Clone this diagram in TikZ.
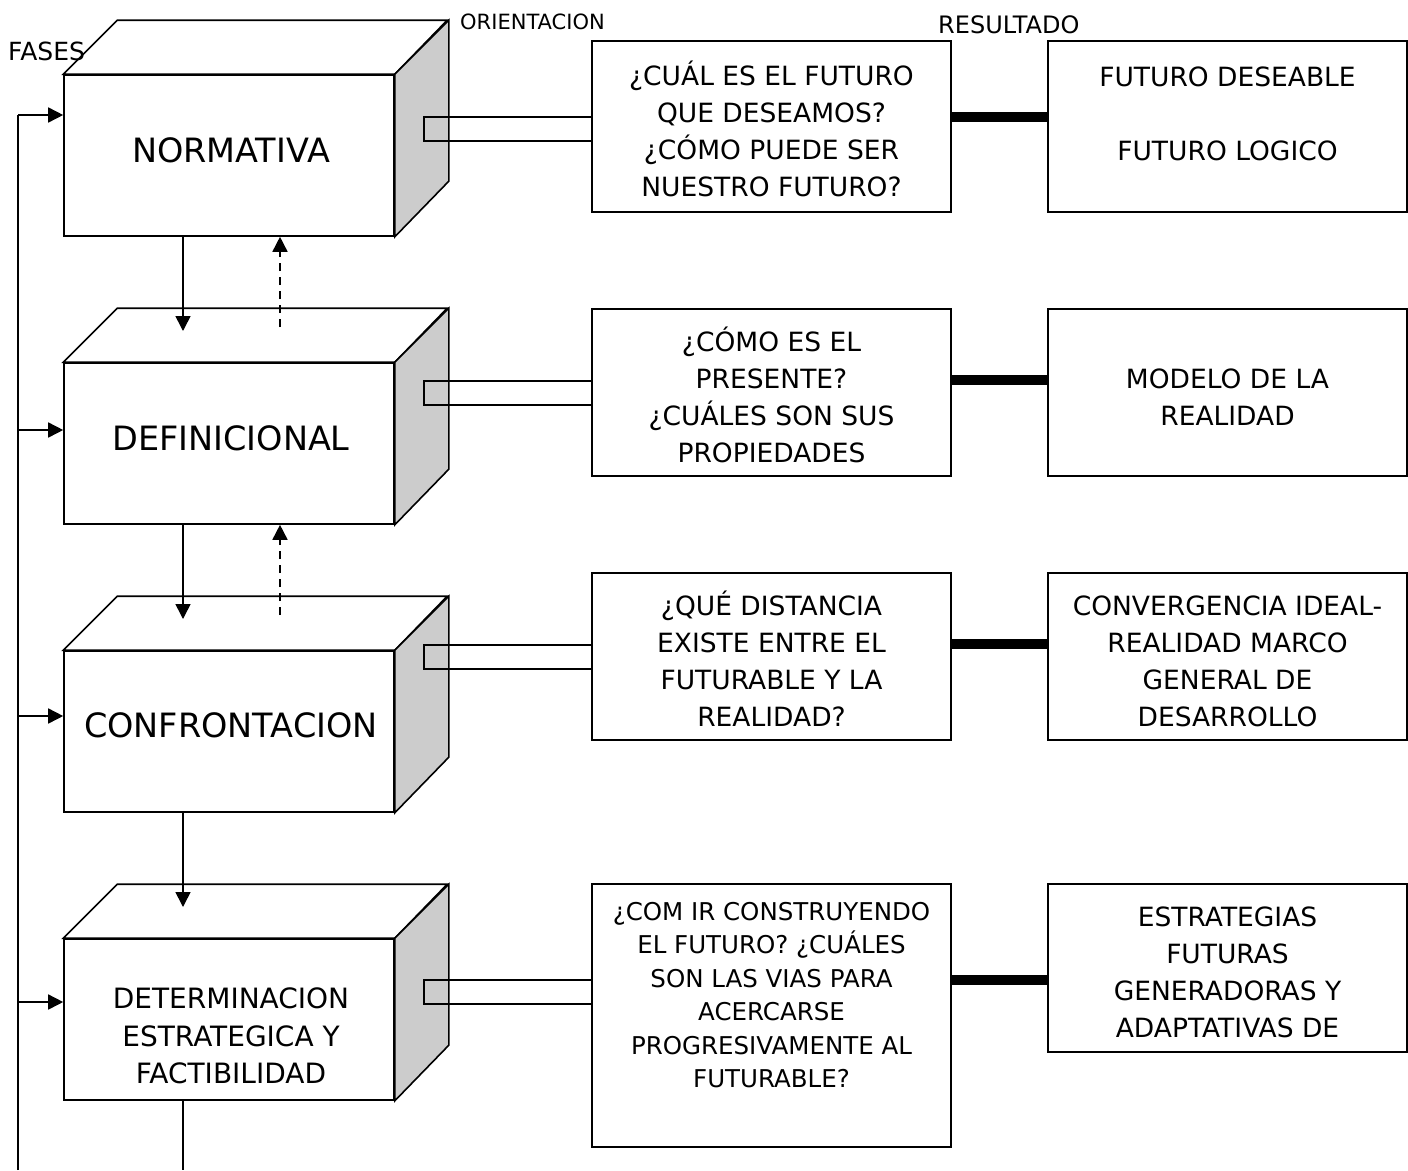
\documentclass[tikz,border=0pt]{standalone}
\usepackage{fontspec}
\setmainfont{DejaVu Sans}
\usetikzlibrary{arrows.meta}
\begin{document}
\begin{tikzpicture}[x=1pt,y=-1pt,
  ln/.style={line width=1.6pt},
  face/.style={ln, draw, fill=white, minimum width=330pt, minimum height=161pt, inner sep=0pt, align=center},
  qbox/.style={ln, draw, minimum width=359pt, inner sep=0pt, align=center},
  txt/.style={font=\fontsize{26.5}{37}\selectfont, align=center, inner sep=0pt},
  big/.style={font=\fontsize{33.5}{40}\selectfont},
  arr/.style={ln, -{Triangle[length=15pt,width=15pt]}},
  dsh/.style={ln, dash pattern=on 8pt off 6pt, -{Triangle[length=15pt,width=15pt]}},
  bar/.style={line width=10pt},
  side/.style={ln, draw, fill=black!20},
  top/.style={ln, draw, fill=white}]
\useasboundingbox (0,0) rectangle (1408,1170);

% cubes
\foreach \n/\y in {1/155.5,2/443.5,3/731.5,4/1019.5}{
  \node[face] (c\n) at (229,\y) {};
  \draw[top] (c\n.north west) -- ++(54,-54) -- ++(330,0) -- (c\n.north east) -- cycle;
  \draw[side] (c\n.north east) -- ++(54,-54) -- ++(0,161) -- (c\n.south east) -- cycle;
}
\node[txt,big] (l1) at (231,150) {NORMATIVA};
\node[txt,big] (l2) at (231,438) {DEFINICIONAL};
\node[txt,big] (l3) at (231,725) {CONFRONTACION};
\node[txt,font=\fontsize{28}{37.5}\selectfont] (l4) at (231,1036) {DETERMINACION\\ESTRATEGICA Y\\FACTIBILIDAD};

% question boxes
\node[qbox, minimum height=171pt] (q1) at (771.5,126.5) {};
\node[qbox, minimum height=167pt] (q2) at (771.5,392.5) {};
\node[qbox, minimum height=167pt] (q3) at (771.5,656.5) {};
\node[qbox, minimum height=263pt] (q4) at (771.5,1015.5) {};
\node[txt] (qt1) at (771.5,128.5) {¿CUÁL ES EL FUTURO\\QUE DESEAMOS?\\¿CÓMO PUEDE SER\\NUESTRO FUTURO?};
\node[txt] (qt2) at (771.5,394.5) {¿CÓMO ES EL\\PRESENTE?\\¿CUÁLES SON SUS\\PROPIEDADES};
\node[txt] (qt3) at (771.5,658.5) {¿QUÉ DISTANCIA\\EXISTE ENTRE EL\\FUTURABLE Y LA\\REALIDAD?};
\node[txt,font=\fontsize{24.5}{33.5}\selectfont] (qt4) at (771.5,995) {¿COM IR CONSTRUYENDO\\EL FUTURO? ¿CUÁLES\\SON LAS VIAS PARA\\ACERCARSE\\PROGRESIVAMENTE AL\\FUTURABLE?};

% result boxes
\node[qbox, minimum height=171pt] (r1) at (1227.5,126.5) {};
\node[qbox, minimum height=167pt] (r2) at (1227.5,392.5) {};
\node[qbox, minimum height=167pt] (r3) at (1227.5,656.5) {};
\node[qbox, minimum height=168pt] (r4) at (1227.5,968) {};
\node[txt] (rt1) at (1227.5,114) {FUTURO DESEABLE\\[37pt]FUTURO LOGICO};
\node[txt] (rt2) at (1227.5,397) {MODELO DE LA\\REALIDAD};
\node[txt] (rt3) at (1227.5,661) {CONVERGENCIA IDEAL-\\REALIDAD MARCO\\GENERAL DE\\DESARROLLO};
\node[txt] (rt4) at (1227.5,972) {ESTRATEGIAS\\FUTURAS\\GENERADORAS Y\\ADAPTATIVAS DE};

% headers
\node[anchor=base west, inner sep=0pt, font=\fontsize{25}{30}\selectfont] (fases) at (8,60) {FASES};
\node[anchor=base west, inner sep=0pt, font=\fontsize{21}{25}\selectfont] (orient) at (460,29) {ORIENTACION};
\node[anchor=base west, inner sep=0pt, font=\fontsize{24}{28}\selectfont] (resul) at (938,33) {RESULTADO};

% connectors cube -> question (open bars)
\foreach \n/\y in {1/129,2/393,3/657,4/992}{
  \coordinate (ka\n) at (424,\y-12);
  \coordinate (kb\n) at (424,\y+12);
  \draw[ln] (q\n.west |- ka\n) -- (ka\n) -- (kb\n) -- (q\n.west |- kb\n);
}
% thick bars question -> result
\foreach \n/\y in {1/117,2/380,3/644,4/980}{
  \coordinate (t\n) at (1000,\y);
  \draw[bar] (q\n.east |- t\n) -- (r\n.west |- t\n);
}

% feedback line
\coordinate (fb0) at (18,1170);
\coordinate (fb1) at (18,115);
\coordinate (fb2) at (18,430);
\coordinate (fb3) at (18,716);
\coordinate (fb4) at (18,1002);
\draw[ln] (fb0) -- (fb1);
\foreach \n in {1,2,3,4}{ \draw[arr] (fb\n) -- (fb\n -| c\n.west); }

% down arrows
\coordinate (d1) at (183,331);
\coordinate (d2) at (183,619);
\coordinate (d3) at (183,907);
\coordinate (d4) at (183,1170);
\draw[arr] (d1 |- c1.south) -- (d1);
\draw[arr] (d2 |- c2.south) -- (d2);
\draw[arr] (d3 |- c3.south) -- (d3);
\draw[ln] (d4 |- c4.south) -- (d4);
% dashed up arrows
\coordinate (u1) at (280,327);
\coordinate (u2) at (280,615);
\draw[dsh] (u1) -- (u1 |- c1.south);
\draw[dsh] (u2) -- (u2 |- c2.south);
\end{tikzpicture}
\end{document}
